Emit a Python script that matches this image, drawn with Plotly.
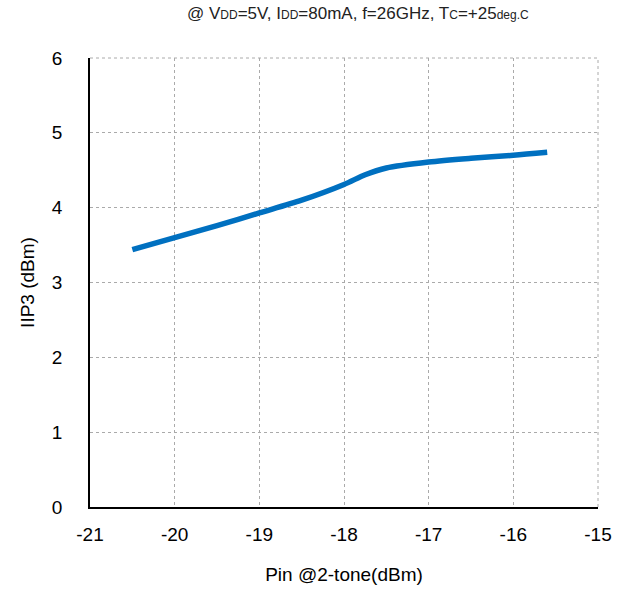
import plotly.graph_objects as go

pin = [-20.5, -20.0, -19.5, -19.0, -18.5, -18.0, -17.75, -17.5, -17.0, -16.5, -16.0, -15.6]
iip3 = [3.44, 3.60, 3.76, 3.93, 4.10, 4.31, 4.44, 4.53, 4.61, 4.66, 4.70, 4.74]

x_ticks = [-21, -20, -19, -18, -17, -16, -15]
y_ticks = [0, 1, 2, 3, 4, 5, 6]

fig = go.Figure()
fig.add_trace(go.Scatter(x=pin, y=iip3, mode="lines",
                         line=dict(color="#0070C0", width=5.5, shape="spline", smoothing=0.8),
                         showlegend=False))

font = dict(family="Liberation Sans, Arial, sans-serif", color="#000000")
fig.update_layout(
    width=627, height=597,
    margin=dict(l=90, r=29, t=58, b=90),
    paper_bgcolor="white", plot_bgcolor="white",
    font=font,
    xaxis=dict(range=[-21, -15], tickvals=x_ticks, ticktext=[str(v) for v in x_ticks],
               showgrid=True, gridcolor="#aaaaaa", griddash="dot", gridwidth=1,
               showline=True, linecolor="black", linewidth=1.5, mirror=False,
               ticks="", tickfont=dict(size=19), ticklabelstandoff=9,
               zeroline=False,
               title=dict(text="Pin @2-tone(dBm)", font=dict(size=19), standoff=24)),
    yaxis=dict(range=[0, 6], tickvals=y_ticks, ticktext=[str(v) for v in y_ticks],
               showgrid=True, gridcolor="#aaaaaa", griddash="dot", gridwidth=1,
               showline=True, linecolor="black", linewidth=1.5, mirror=False,
               ticks="", tickfont=dict(size=19), ticklabelstandoff=22,
               zeroline=False,
               title=dict(text="IIP3 (dBm)", font=dict(size=19), standoff=12)),
)

# top/right border dotted
fig.add_shape(type="line", xref="paper", yref="paper", x0=0, x1=1, y0=1, y1=1,
              line=dict(color="#aaaaaa", width=1, dash="dot"))
fig.add_shape(type="line", xref="paper", yref="paper", x0=1, x1=1, y0=0, y1=1,
              line=dict(color="#aaaaaa", width=1, dash="dot"))

s = "<span style='font-size:12px'>"
title = ("@ V" + s + "DD</span>=5V, I" + s + "DD</span>=80mA, f=26GHz, T" + s + "C</span>=+25" + s + "deg.C</span>")
fig.add_annotation(text=title, xref="paper", yref="paper", x=0.528, y=1.0, yshift=33,
                   xanchor="center", yanchor="bottom", showarrow=False,
                   font=dict(size=17, family="Liberation Sans, Arial, sans-serif", color="#222222"))

fig.write_html("out.html")
